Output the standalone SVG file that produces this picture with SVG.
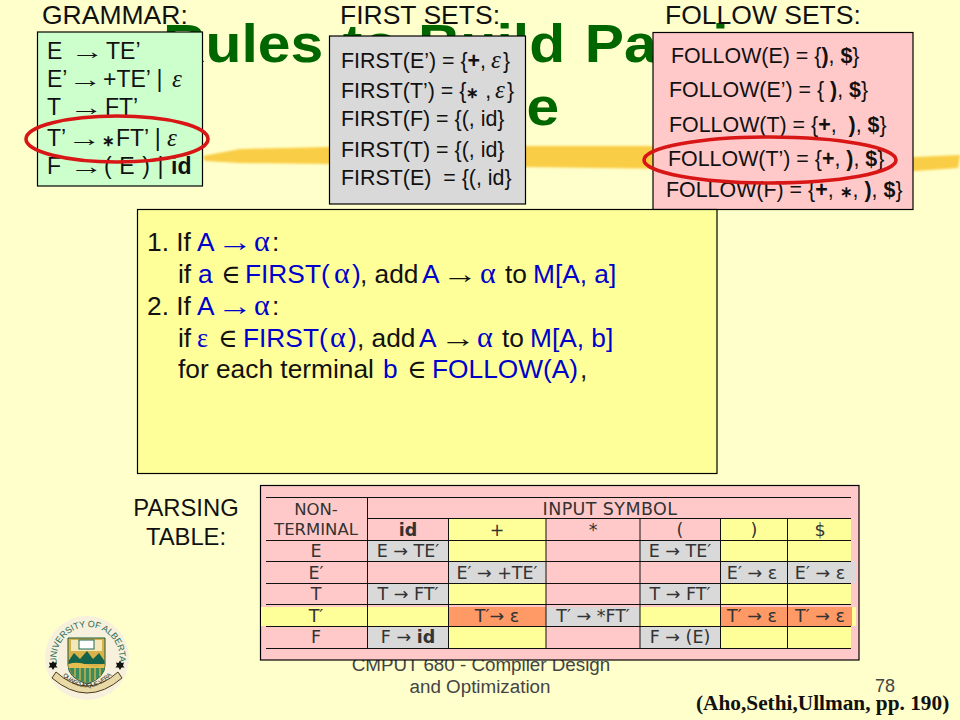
<svg xmlns="http://www.w3.org/2000/svg" width="960" height="720" viewBox="0 0 960 720">
<style>
text{font-family:"Liberation Sans",Arial,sans-serif;fill:#111;white-space:pre}
.sym{font-family:"Liberation Serif","DejaVu Serif",serif}
.arr{font-family:"Liberation Sans",sans-serif}
.eps{font-family:"Liberation Serif","DejaVu Serif",serif;font-style:italic;font-size:25px}
.hd{font-size:26.5px}
.g{font-size:23px}
.f{font-size:21.400px}
.m{font-size:26.300px}
.al{font-family:"Liberation Serif",serif;font-size:30px}
.bl{fill:#0000cc}
.t{font-family:"DejaVu Sans",sans-serif;font-size:17.500px;fill:#333;text-anchor:middle}
.h{font-size:16.500px}
.box{stroke:#000;stroke-width:1.2}
.ring{fill:none;stroke:#d81616;stroke-width:3.6}
.b{font-weight:bold}
.ast{font-size:15px}
.ln{stroke:#111;stroke-width:1}
.p{fill:#ffc9c9}.y{fill:#ffff99}.s{fill:#d9d9d9}.o{fill:#ff9966}
</style>
<defs>
<filter id="soft" x="-5%" y="-30%" width="110%" height="160%"><feGaussianBlur stdDeviation="1.1"/></filter>
<path id="arcTop" d="M57 664A31.500 31.500 0 1 1 119 664"/>
<path id="arcBan" d="M62 675Q87 700 112 675"/>
</defs>
<rect width="960" height="720" fill="#ffffcc"/>
<g id="title-bar">
<path filter="url(#soft)" fill="#f9cd45" d="M203 156L240 149L330 147L420 146L525 146L650 146L700 151L800 156L915 157L960 155L958 168L915 171L800 171L680 169L525 167L420 165L330 164L240 163L205 161Z"/>
<text transform="translate(163 62) scale(1.09 1)" font-size="54" font-weight="bold" style="fill:#006600" word-spacing="3">Rules to Build Parsing</text>
<text transform="translate(410 125) scale(1.09 1)" font-size="54" font-weight="bold" style="fill:#006600">Table</text>
</g>
<g id="footer">
<text x="481" y="671" font-size="18.800" text-anchor="middle" style="fill:#444">CMPUT 680 - Compiler Design</text>
<text x="480" y="693" font-size="18.800" text-anchor="middle" style="fill:#444">and Optimization</text>
<text x="875" y="692" font-size="18" style="fill:#444">78</text>
<text x="696" y="710" font-size="21.300" font-weight="bold" style="font-family:'Liberation Serif',serif;fill:#111">(Aho,Sethi,Ullman, pp. 190)</text>
</g>
<g id="grammar">
<text class="hd" x="42" y="24">GRAMMAR:</text>
<rect class="box" x="37.500" y="32" width="165" height="154" fill="#ccffcc"/>
<g class="g">
<text x="47" y="59">E</text><text x="70" y="59" class="arr" textLength="34" lengthAdjust="spacingAndGlyphs">→</text><text x="106" y="59">TE’</text>
<text x="47" y="87">E’</text><text x="68" y="87" class="arr" textLength="34" lengthAdjust="spacingAndGlyphs">→</text><text x="103" y="87">+TE’ |</text><text x="172" y="87" class="eps">ε</text>
<text x="47" y="115">T</text><text x="69" y="115" class="arr" textLength="34" lengthAdjust="spacingAndGlyphs">→</text><text x="105" y="115">FT’</text>
<text x="47" y="146">T’</text><text x="67" y="146" class="arr" textLength="34" lengthAdjust="spacingAndGlyphs">→</text><text x="102" y="146"><tspan class="ast b">∗</tspan><tspan dx="1">FT’ |</tspan></text><text x="167" y="146" class="eps">ε</text>
<text x="47" y="174">F</text><text x="69" y="174" class="arr" textLength="34" lengthAdjust="spacingAndGlyphs">→</text><text x="104" y="174" word-spacing="1.200">( E ) | <tspan class="b">id</tspan></text>
</g>
</g>
<g id="first-sets">
<text class="hd" x="340" y="24">FIRST SETS:</text>
<rect class="box" x="329.500" y="36" width="196" height="168" fill="#d9d9d9"/>
<g class="f">
<text x="341" y="68">FIRST(E’) = {<tspan class="b">+</tspan>,</text><text x="491" y="68" class="eps">ε</text><text x="503" y="68">}</text>
<text x="341" y="98">FIRST(T’) = {<tspan class="b ast">∗</tspan> ,</text><text x="495" y="98" class="eps">ε</text><text x="507" y="98">}</text>
<text x="341" y="126">FIRST(F) = {(, id}</text>
<text x="341" y="157">FIRST(T) = {(, id}</text>
<text x="341" y="185">FIRST(E)  = {(, id}</text>
</g>
</g>
<g id="follow-sets">
<text class="hd" x="665" y="24">FOLLOW SETS:</text>
<rect class="box" x="653" y="32.500" width="260" height="177" fill="#ffc9c9"/>
<g class="f">
<text x="671" y="63">FOLLOW(E) = {<tspan class="b">)</tspan>, <tspan class="b">$</tspan>}</text>
<text x="669" y="97">FOLLOW(E’) = { <tspan class="b">)</tspan>, <tspan class="b">$</tspan>}</text>
<text x="669" y="132">FOLLOW(T) = {<tspan class="b">+</tspan>,  <tspan class="b">)</tspan>, <tspan class="b">$</tspan>}</text>
<text x="668" y="166">FOLLOW(T’) = {<tspan class="b">+</tspan>, <tspan class="b">)</tspan>, <tspan class="b">$</tspan>}</text>
<text x="666" y="197">FOLLOW(F) = {<tspan class="b">+</tspan>, <tspan class="b ast">∗</tspan>, <tspan class="b">)</tspan>, <tspan class="b">$</tspan>}</text>
</g>
</g>
<g id="rules">
<rect class="box" x="137.500" y="209.500" width="579.500" height="264" fill="#ffff99"/>
<g class="m">
<text x="147" y="251">1. If</text><text x="197" y="251" class="bl">A</text><text x="217" y="251" class="arr bl" textLength="36" lengthAdjust="spacingAndGlyphs">→</text><text x="254" y="251" class="al bl">α</text><text x="272" y="251">:</text>
<text x="178" y="283">if</text><text x="198" y="283" class="bl">a</text><text x="221" y="283" class="sym">∈</text><text x="245" y="283" class="bl">FIRST(</text><text x="334" y="283" class="al bl">α</text><text x="352" y="283" class="bl">)</text><text x="360" y="283">, add</text><text x="422" y="283" class="bl">A</text><text x="442" y="283" class="arr" textLength="36" lengthAdjust="spacingAndGlyphs">→</text><text x="480" y="283" class="al bl">α</text><text x="505" y="283">to</text><text x="533" y="283" class="bl">M[A, a]</text>
<text x="147" y="315">2. If</text><text x="197" y="315" class="bl">A</text><text x="217" y="315" class="arr bl" textLength="36" lengthAdjust="spacingAndGlyphs">→</text><text x="254" y="315" class="al bl">α</text><text x="272" y="315">:</text>
<text x="178" y="347">if</text><text x="197" y="347" class="sym bl">ε</text><text x="218" y="347" class="sym">∈</text><text x="243" y="347" class="bl">FIRST(</text><text x="330" y="347" class="al bl">α</text><text x="348" y="347" class="bl">)</text><text x="357" y="347">, add</text><text x="419" y="347" class="bl">A</text><text x="440" y="347" class="arr" textLength="36" lengthAdjust="spacingAndGlyphs">→</text><text x="477" y="347" class="al bl">α</text><text x="502" y="347">to</text><text x="530" y="347" class="bl">M[A, b]</text>
<text x="178" y="378">for each terminal</text><text x="383" y="378" class="bl">b</text><text x="407" y="378" class="sym">∈</text><text x="432" y="378" class="bl">FOLLOW(A)</text><text x="580" y="378">,</text>
</g>
</g>
<g id="parsing-label">
<text x="186" y="516" font-size="23.800" text-anchor="middle">PARSING</text>
<text x="186" y="545" font-size="23.800" text-anchor="middle">TABLE:</text>
</g>
<g id="parsing-table">
<rect class="box" x="260.500" y="485.500" width="598.500" height="174.500" fill="#ffc9c9"/>
<g>
<rect class="y" x="448" y="518" width="98" height="22"/><rect class="y" x="720" y="518" width="131" height="22"/>
<rect class="s" x="368" y="540" width="80" height="21"/><rect class="y" x="448" y="540" width="98" height="21"/><rect class="s" x="640" y="540" width="80" height="21"/><rect class="y" x="720" y="540" width="131" height="21"/>
<rect class="s" x="448" y="561" width="98" height="22"/><rect class="s" x="720" y="561" width="136" height="22"/>
<rect class="s" x="368" y="583" width="80" height="21"/><rect class="y" x="448" y="583" width="98" height="21"/><rect class="s" x="640" y="583" width="80" height="21"/><rect class="y" x="720" y="583" width="131" height="21"/>
<rect class="y" x="261" y="607" width="187" height="19"/><rect class="o" x="448" y="607" width="98" height="19"/><rect class="s" x="546" y="607" width="94" height="19"/><rect class="y" x="640" y="607" width="80" height="19"/><rect class="o" x="720" y="607" width="132" height="19"/><rect class="y" x="852" y="607" width="4" height="19"/>
<rect class="s" x="368" y="626" width="80" height="22"/><rect class="y" x="448" y="626" width="98" height="22"/><rect class="s" x="640" y="626" width="80" height="22"/><rect class="y" x="720" y="626" width="131" height="22"/>
</g>
<g class="ln">
<path fill="none" d="M266 497.500H851M368 518.500H851M266 540.500H851M266 561.500H851M266 583.500H851M266 604.500H851M266 626.500H851M266 648.500H851M367.500 497V648M448.500 518V648M546 518V648M640 518V648M720.500 518V648M787.500 518V648"/>
</g>
<g>
<text class="t h" x="316" y="515">NON-</text><text class="t h" x="316" y="535">TERMINAL</text>
<text class="t" x="610" y="515" letter-spacing=".4">INPUT SYMBOL</text>
<text class="t b" x="408" y="536">id</text><text class="t" x="497" y="536">+</text><text class="t" x="593" y="536">*</text><text class="t" x="680" y="536">(</text><text class="t" x="754" y="536">)</text><text class="t" x="820" y="536">$</text>
<text class="t" x="316" y="557">E</text><text class="t" x="408" y="557">E → TE′</text><text class="t" x="680" y="557">E → TE′</text>
<text class="t" x="316" y="579">E′</text><text class="t" x="497" y="579">E′ → +TE′</text><text class="t" x="752" y="579">E′ → ε</text><text class="t" x="820" y="579">E′ → ε</text>
<text class="t" x="316" y="600">T</text><text class="t" x="408" y="600">T → FT′</text><text class="t" x="680" y="600">T → FT′</text>
<text class="t" x="316" y="622">T′</text><text class="t" x="497" y="622">T′→ ε</text><text class="t" x="593" y="622">T′ → *FT′</text><text class="t" x="752" y="622">T′ → ε</text><text class="t" x="820" y="622">T′ → ε</text>
<text class="t" x="316" y="643">F</text><text class="t" x="408" y="643">F → <tspan class="b">id</tspan></text><text class="t" x="680" y="643">F → (E)</text>
</g>
</g>
<g id="highlight-ellipses">
<ellipse class="ring" cx="117" cy="139" rx="91" ry="23"/>
<ellipse class="ring" cx="770" cy="160" rx="126" ry="23"/>
</g>
<g id="logo">
<circle cx="87" cy="658" r="42" fill="#f6f0dc"/>
<text font-size="9" style="fill:#1f6b55"><textPath href="#arcTop" textLength="108" lengthAdjust="spacing">UNIVERSITY OF ALBERTA</textPath></text>
<path d="M68 638H105V665Q105 678 87 684Q68 678 68 665Z" fill="#d9b24a" stroke="#1a5a40"/>
<rect x="71" y="640" width="31" height="11" fill="#f4e7b8"/>
<rect x="79" y="640" width="15" height="9" fill="#fff" stroke="#1a6a55"/>
<path d="M68.500 661L74 653L80 659L87 651L93 659L99 653L104.500 661V664H68.500Z" fill="#14634a"/>
<path d="M68.500 664Q78 661 87 665T104.500 664V668H68.500Z" fill="#e6bd4e"/>
<path d="M69.500 668H104Q103 678 87 683Q71 678 69.500 668Z" fill="#3d8a5c"/>
<path d="M75 668V677M80 668V680M85 668V682M90 668V682M95 668V680M100 668V676" stroke="#e6bd4e" stroke-width="1.2"/>
<path d="M56 672Q87 700 118 672L122 678Q87 708 52 678Z" fill="#e8d9a6" stroke="#4a3a1a"/>
<text font-size="6" style="fill:#2a2a1a"><textPath href="#arcBan" startOffset="1" textLength="56">QUAECUMQUE VERA</textPath></text>
<path d="M53 661L54.500 663L57 662.500L56 665.500L57.500 667.500L54.500 667.500L53 670L51.500 667.500L48.500 667.500L50 665.500L49 662.500L51.500 663Z" fill="#111"/>
<path d="M120 661L121.500 663L124 662.500L123 665.500L124.500 667.500L121.500 667.500L120 670L118.500 667.500L115.500 667.500L117 665.500L116 662.500L118.500 663Z" fill="#111"/>
</g>
</svg>
